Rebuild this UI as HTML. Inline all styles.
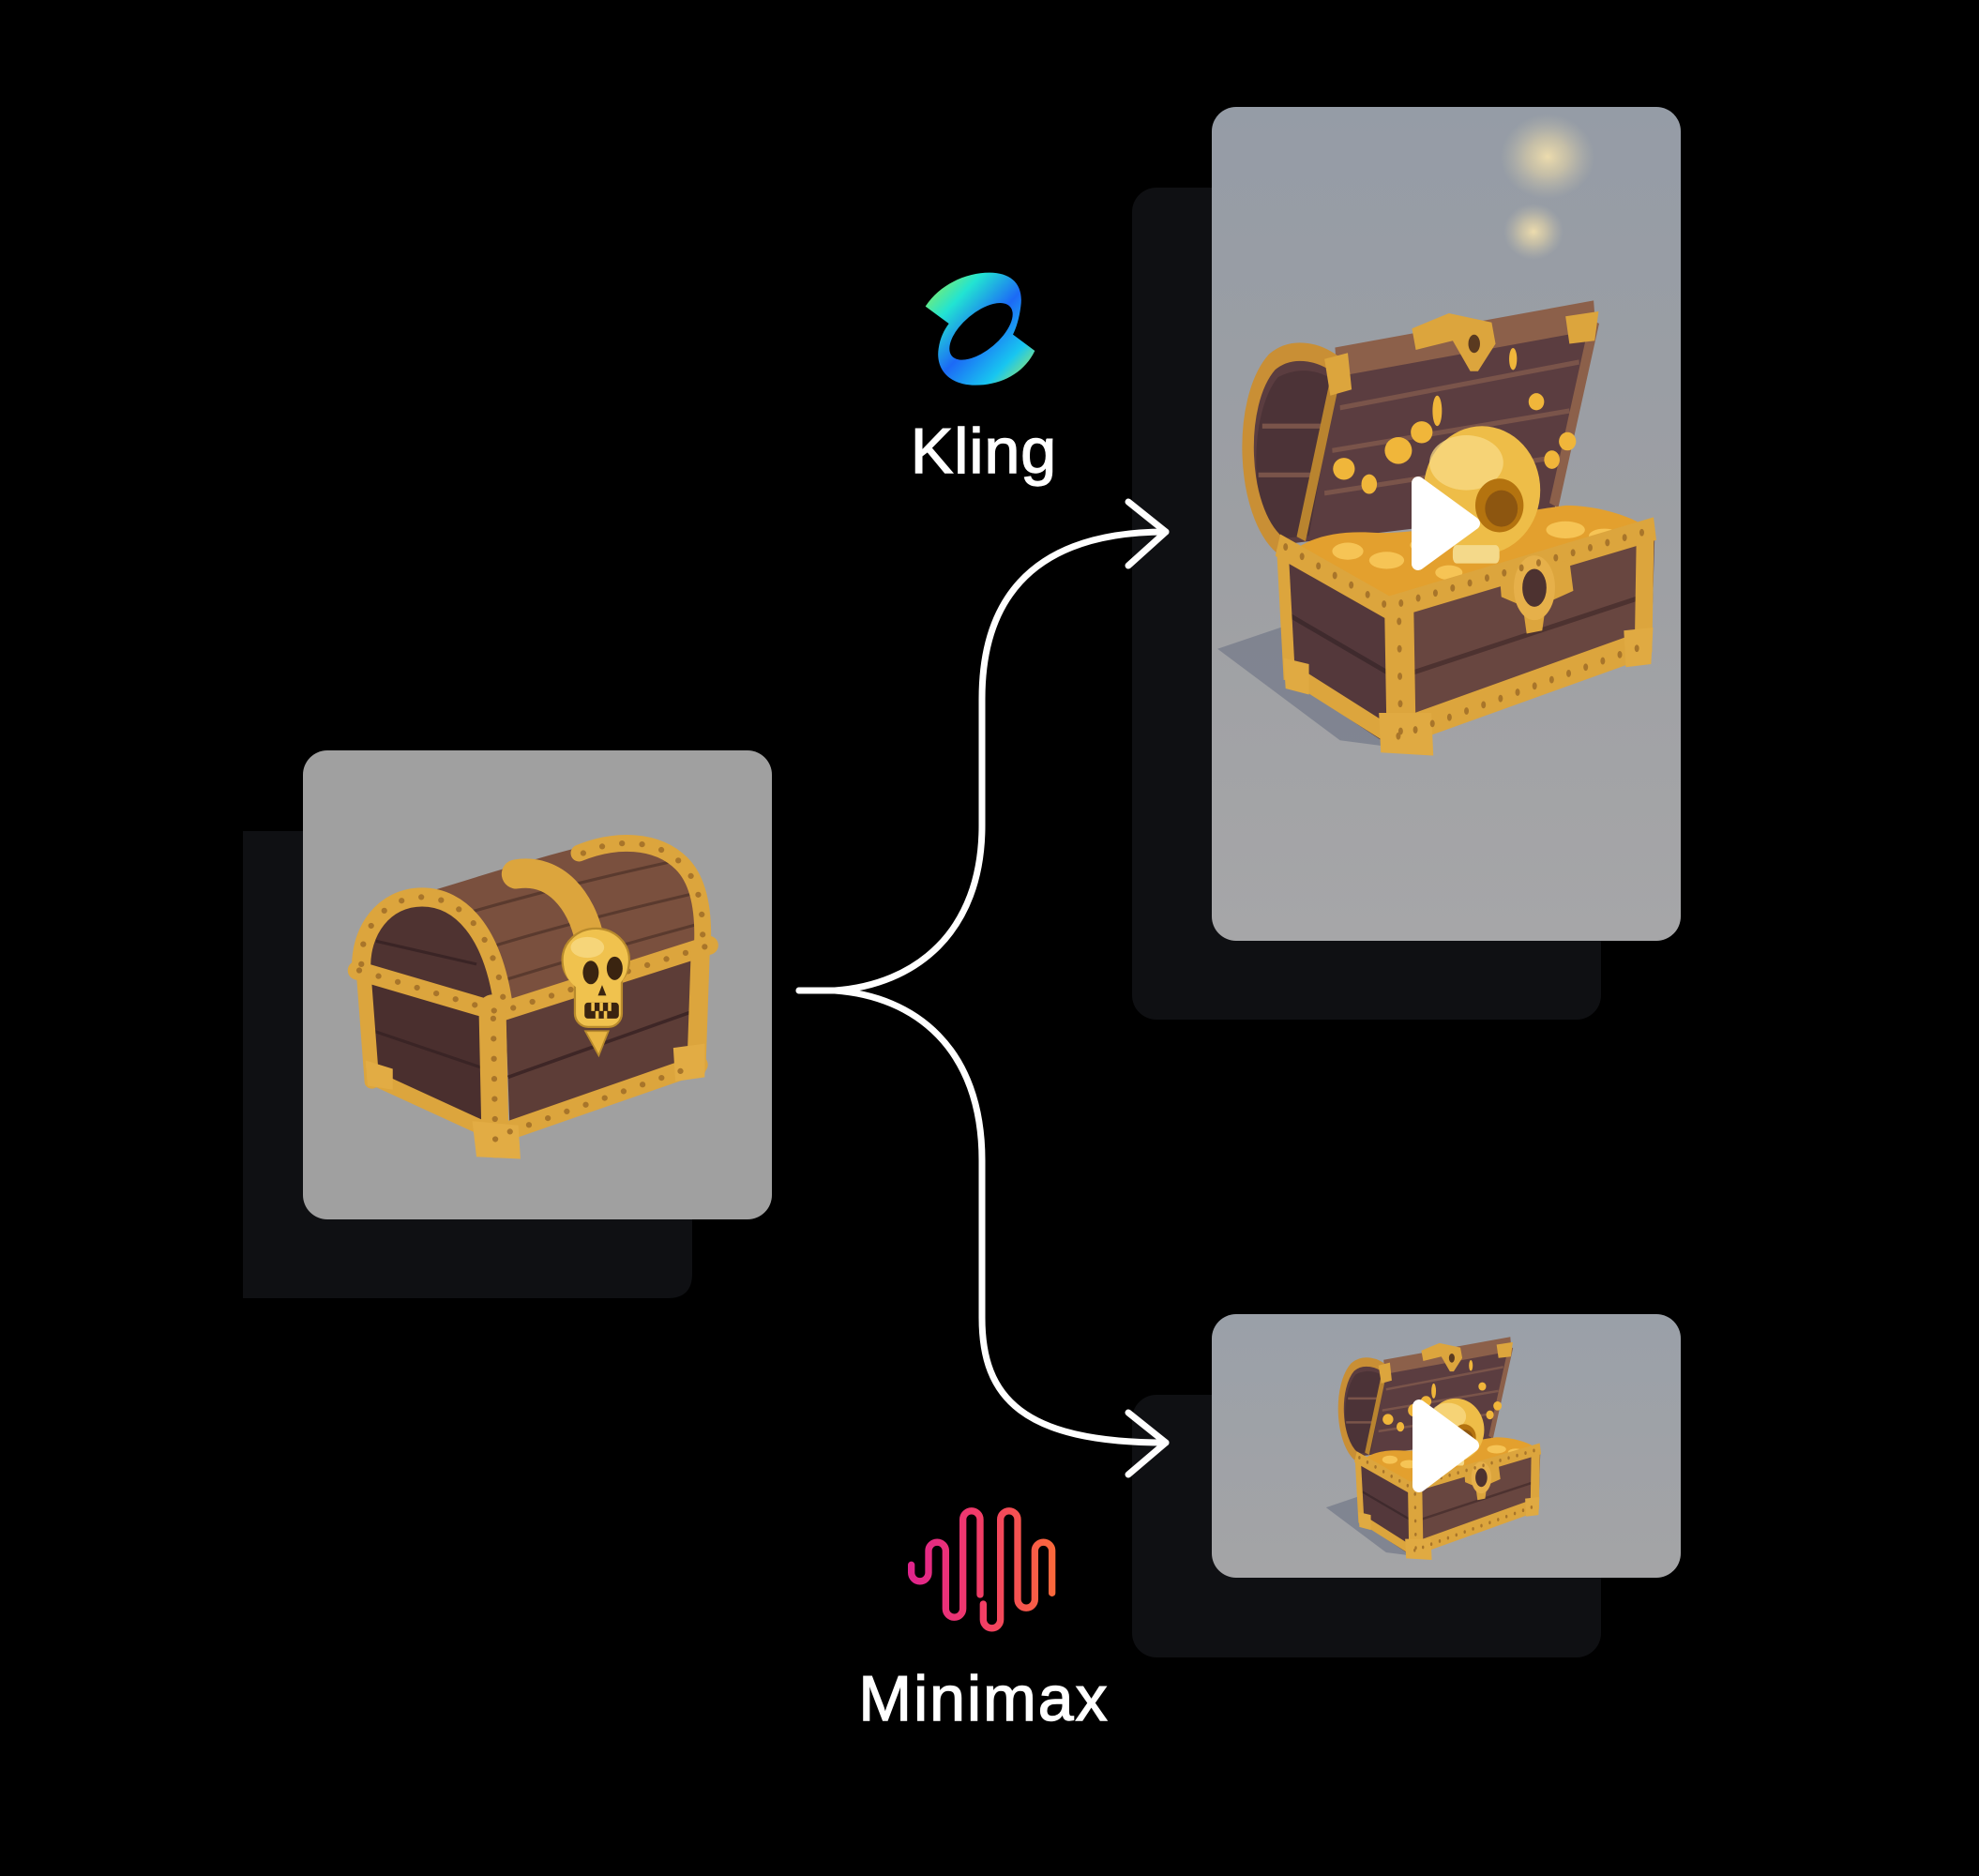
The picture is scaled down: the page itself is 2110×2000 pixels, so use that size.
<!DOCTYPE html>
<html>
<head>
<meta charset="utf-8">
<style>
  html, body { margin:0; padding:0; background:#000; }
  body { width:2110px; height:2000px; overflow:hidden; }
  svg { display:block; }
</style>
</head>
<body>
<svg width="2110" height="2000" viewBox="0 0 2110 2000" xmlns="http://www.w3.org/2000/svg">
  <defs>
    <linearGradient id="topCard" x1="0" y1="0" x2="0" y2="1">
      <stop offset="0" stop-color="#959ca6"/>
      <stop offset="0.5" stop-color="#9d9fa3"/>
      <stop offset="1" stop-color="#a6a6a8"/>
    </linearGradient>
    <linearGradient id="botCard" x1="0" y1="0" x2="0" y2="1">
      <stop offset="0" stop-color="#9aa0a8"/>
      <stop offset="1" stop-color="#a4a4a6"/>
    </linearGradient>
    <radialGradient id="glow1">
      <stop offset="0" stop-color="#f1dfae" stop-opacity="0.95"/>
      <stop offset="0.45" stop-color="#e2d3a8" stop-opacity="0.6"/>
      <stop offset="1" stop-color="#c8c4b0" stop-opacity="0"/>
    </radialGradient>
    <linearGradient id="klingGrad" gradientUnits="userSpaceOnUse" x1="140" y1="110" x2="490" y2="440">
      <stop offset="0" stop-color="#9af04c"/>
      <stop offset="0.25" stop-color="#22e4d2"/>
      <stop offset="0.52" stop-color="#1c6af6"/>
      <stop offset="0.78" stop-color="#18c6f0"/>
      <stop offset="1" stop-color="#b6f04a"/>
    </linearGradient>
    <linearGradient id="mmGrad" gradientUnits="userSpaceOnUse" x1="20" y1="0" x2="500" y2="0">
      <stop offset="0" stop-color="#e0238e"/>
      <stop offset="0.5" stop-color="#f23d66"/>
      <stop offset="1" stop-color="#fb6a3a"/>
    </linearGradient>

    <g id="openchest" transform="translate(1180,90) scale(0.41454,0.65051)">
      <polygon points="285,925 470,885 720,1085 600,1075" fill="#6f7585" opacity="0.65"/>
      <path d="M440,755 C350,700 330,520 420,455 C470,430 540,440 590,465 L1255,380 C1230,470 1190,600 1150,700 Z" fill="#5b3d40"/>
      <path d="M430,745 C370,690 365,540 440,480 C500,460 560,470 590,490 L520,740 Z" fill="#4c3337"/>
      <g stroke="#7a544a" stroke-width="8" fill="none">
        <line x1="600" y1="530" x2="1215" y2="455"/>
        <line x1="580" y1="600" x2="1190" y2="535"/>
        <line x1="560" y1="670" x2="1165" y2="610"/>
        <line x1="400" y1="560" x2="560" y2="560"/>
        <line x1="390" y1="640" x2="540" y2="640"/>
      </g>
      <path d="M590,455 L1255,378" stroke="#8c604a" stroke-width="48" fill="none"/>
      <path d="M445,755 C345,700 335,520 425,455 C480,425 560,440 600,465" stroke="#c98f35" stroke-width="30" fill="none"/>
      <path d="M590,475 L500,745" stroke="#b9842f" stroke-width="24" fill="none"/>
      <path d="M1255,388 L1150,690" stroke="#8c604a" stroke-width="24" fill="none"/>
      <path d="M560,450 L620,440 L630,500 L575,510 Z" fill="#dca53d"/>
      <path d="M1180,380 L1265,372 L1255,420 L1190,425 Z" fill="#dca53d"/>
      <polygon points="785,400 880,375 990,390 1000,425 955,470 935,470 890,420 795,435" fill="#dca53d"/>
      <circle cx="945" cy="425" r="15" fill="#5a3a20"/>
      <path d="M470,770 C520,740 600,730 700,735 C850,735 1000,705 1180,690 C1280,690 1380,715 1405,735 L1200,795 L730,860 Z" fill="#e3a02e"/>
      <g fill="#f6c455">
        <ellipse cx="620" cy="765" rx="40" ry="14"/>
        <ellipse cx="720" cy="780" rx="45" ry="14"/>
        <ellipse cx="820" cy="755" rx="40" ry="12"/>
        <ellipse cx="1180" cy="730" rx="50" ry="14"/>
        <ellipse cx="1280" cy="740" rx="40" ry="12"/>
        <ellipse cx="880" cy="800" rx="35" ry="12"/>
      </g>
      <ellipse cx="965" cy="665" rx="150" ry="105" fill="#eebd48"/>
      <ellipse cx="925" cy="620" rx="95" ry="45" fill="#f8db86" opacity="0.75"/>
      <ellipse cx="1010" cy="690" rx="62" ry="44" fill="#b4730f"/>
      <ellipse cx="1015" cy="695" rx="42" ry="30" fill="#8d5610"/>
      <rect x="890" y="755" width="120" height="30" rx="10" fill="#f4d98a"/>
      <polygon points="440,760 725,865 730,1085 470,975" fill="#54383b"/>
      <polygon points="725,865 1410,730 1400,935 730,1085" fill="#684640"/>
      <line x1="735" y1="975" x2="1400" y2="835" stroke="#4d3230" stroke-width="8"/>
      <line x1="470" y1="870" x2="725" y2="965" stroke="#3f2a2d" stroke-width="8"/>
      <g stroke="#dca53d" fill="none" stroke-linejoin="round">
        <path d="M440,755 L725,858 L1410,728" stroke-width="38"/>
        <path d="M752,860 L758,1085" stroke-width="75"/>
        <path d="M452,760 L470,975" stroke-width="30"/>
        <path d="M1385,735 L1380,930" stroke-width="45"/>
        <path d="M740,1065 L1395,915" stroke-width="45"/>
        <path d="M465,960 L725,1065" stroke-width="30"/>
      </g>
      <polygon points="700,1030 835,1030 840,1100 705,1095" fill="#e0aa42"/>
      <polygon points="1330,895 1405,890 1400,950 1335,955" fill="#e0aa42"/>
      <polygon points="455,940 520,950 520,1000 460,990" fill="#e0aa42"/>
      <polygon points="1010,800 1190,780 1200,830 1130,850 1120,895 1080,900 1070,855 1015,840" fill="#dca53d"/>
      <circle cx="1100" cy="825" r="42" fill="#4d3230" stroke="#e6b04a" stroke-width="22"/>
      <g stroke="#a8752a" stroke-width="12" stroke-linecap="round" stroke-dasharray="0 45" fill="none">
        <path d="M460,758 L725,856 L1400,730"/>
        <path d="M750,1068 L1390,918"/>
        <path d="M752,880 L756,1060"/>
      </g>
      <g fill="#f0b63a">
        <ellipse cx="610" cy="630" rx="28" ry="18"/>
        <ellipse cx="675" cy="655" rx="20" ry="16"/>
        <ellipse cx="750" cy="600" rx="35" ry="22"/>
        <ellipse cx="810" cy="570" rx="28" ry="18"/>
        <ellipse cx="850" cy="535" rx="12" ry="25"/>
        <ellipse cx="1045" cy="450" rx="10" ry="18"/>
        <ellipse cx="1105" cy="520" rx="20" ry="14"/>
        <ellipse cx="1145" cy="615" rx="20" ry="15"/>
        <ellipse cx="1185" cy="585" rx="22" ry="15"/>
      </g>
    </g>
  </defs>

  <path d="M259,886 L738,886 L738,1358 Q738,1384 712,1384 L259,1384 Z" fill="#0f1013"/>
  <rect x="1207" y="200" width="500" height="887" rx="26" fill="#0f1013"/>
  <rect x="1207" y="1487" width="500" height="280" rx="26" fill="#0f1013"/>

  <rect x="323" y="800" width="500" height="500" rx="26" fill="#a0a0a0"/>
  <rect x="1292" y="114" width="500" height="889" rx="26" fill="url(#topCard)"/>
  <rect x="1292" y="1401" width="500" height="281" rx="26" fill="url(#botCard)"/>

  <ellipse cx="1650" cy="167" rx="50" ry="45" fill="url(#glow1)"/>
  <ellipse cx="1635" cy="247" rx="32" ry="30" fill="url(#glow1)"/>

  <g transform="translate(200,760) scale(0.44643)">
    <polygon points="430,610 740,710 745,1020 445,885" fill="#4a2f2e"/>
    <path d="M430,615 C425,500 490,450 560,450 C650,455 715,560 735,705 L430,620 Z" fill="#4f3331"/>
    <g stroke="#3a2425" stroke-width="7" fill="none">
      <line x1="450" y1="545" x2="690" y2="600"/>
      <line x1="445" y1="760" x2="740" y2="860"/>
    </g>
    <path d="M565,430 C700,390 850,340 1000,305 C1100,295 1180,330 1215,400 C1240,450 1245,500 1240,545 L770,705 C760,600 700,470 600,430 Z" fill="#7a503e"/>
    <g stroke="#5a3a2e" stroke-width="7" fill="none">
      <path d="M660,480 C800,440 950,400 1180,350"/>
      <path d="M720,560 C850,520 1000,480 1215,430"/>
      <path d="M750,640 C880,600 1050,550 1235,500"/>
    </g>
    <polygon points="760,730 1215,570 1220,850 770,1010" fill="#5d3d37"/>
    <line x1="765" y1="870" x2="1215" y2="710" stroke="#3e2626" stroke-width="8"/>
    <g stroke="#dca53d" fill="none" stroke-linejoin="round" stroke-linecap="round">
      <path d="M415,615 C410,520 470,440 560,440 C650,440 730,520 755,705" stroke-width="45"/>
      <path d="M935,335 C1020,300 1120,300 1180,360 C1220,400 1232,470 1230,545" stroke-width="40"/>
      <path d="M785,385 C880,370 940,450 960,540" stroke-width="70"/>
      <path d="M405,615 L745,715 L1245,555" stroke-width="45"/>
      <path d="M728,705 L735,1030" stroke-width="65"/>
      <path d="M760,1000 L1220,840" stroke-width="45"/>
      <path d="M440,870 L745,1010" stroke-width="35"/>
      <path d="M420,615 L440,880" stroke-width="35"/>
      <path d="M1225,560 L1215,850" stroke-width="45"/>
    </g>
    <polygon points="680,975 790,985 795,1065 690,1060" fill="#e2ac44"/>
    <polygon points="425,830 490,850 490,900 430,890" fill="#e2ac44"/>
    <polygon points="1160,800 1235,790 1235,870 1165,880" fill="#e2ac44"/>
    <g stroke="#a8752a" stroke-width="14" stroke-linecap="round" stroke-dasharray="0 48" fill="none">
      <path d="M415,600 C410,520 470,440 560,440 C650,440 730,520 755,690"/>
      <path d="M410,615 L745,715 L1240,557"/>
      <path d="M770,1000 L1215,842"/>
      <path d="M730,730 L735,1020"/>
      <path d="M945,335 C1020,300 1120,300 1180,360 C1220,400 1232,470 1230,540"/>
    </g>
    <polygon points="950,760 1005,760 982,818" fill="#e8b543" stroke="#b88a2c" stroke-width="4"/>
    <ellipse cx="975" cy="590" rx="80" ry="75" fill="#f0c24e" stroke="#b88a2c" stroke-width="5"/>
    <rect x="925" y="610" width="112" height="140" rx="32" fill="#f0c24e" stroke="#b88a2c" stroke-width="5"/>
    <ellipse cx="975" cy="600" rx="76" ry="70" fill="#f0c24e"/>
    <ellipse cx="955" cy="560" rx="40" ry="25" fill="#f8da84" opacity="0.8"/>
    <ellipse cx="963" cy="620" rx="19" ry="28" fill="#3a2410"/>
    <ellipse cx="1020" cy="610" rx="19" ry="28" fill="#3a2410"/>
    <polygon points="990,650 980,675 1000,675" fill="#3a2410"/>
    <rect x="948" y="692" width="82" height="38" rx="8" fill="#3a2410"/>
    <g stroke="#f0c24e" stroke-width="8">
      <line x1="968" y1="692" x2="968" y2="712"/>
      <line x1="988" y1="692" x2="988" y2="712"/>
      <line x1="1008" y1="692" x2="1008" y2="712"/>
      <line x1="978" y1="712" x2="978" y2="730"/>
      <line x1="998" y1="712" x2="998" y2="730"/>
    </g>
  </g>

  <use href="#openchest"/>
  <use href="#openchest" transform="translate(777.75,1268.24) scale(0.49)"/>

  <polygon points="1512,515 1512,601 1571,558" fill="#fff" stroke="#fff" stroke-width="14" stroke-linejoin="round"/>
  <polygon points="1513,1499 1513,1584 1570,1541" fill="#fff" stroke="#fff" stroke-width="14" stroke-linejoin="round"/>

  <g stroke="#fff" stroke-width="7" fill="none" stroke-linecap="round" stroke-linejoin="round">
    <path d="M852,1056 L890,1056 C975,1050 1047,995 1047,880 L1047,745 C1047,650 1090,567 1243,567"/>
    <path d="M852,1056 L890,1056 C975,1062 1047,1117 1047,1237 L1047,1405 C1047,1490 1090,1538 1243,1538"/>
    <path d="M1203,535 L1243,567 L1203,603"/>
    <path d="M1203,1506 L1243,1538 L1203,1572"/>
  </g>

  <g transform="translate(940,260) scale(0.33333)">
    <path d="M140,200 C185,130 270,92 345,92 C415,92 455,130 445,200 C440,240 430,270 420,290 L490,342 C455,415 380,452 300,452 C215,452 172,400 182,335 C187,300 200,275 215,255 Z" fill="url(#klingGrad)"/>
    <ellipse cx="318" cy="280" rx="122" ry="60" transform="rotate(-40 318 280)" fill="#000"/>
  </g>
  <text x="1049" y="504" text-anchor="middle" font-family="Liberation Sans, Arial, sans-serif" font-size="68" fill="#fff" stroke="#fff" stroke-width="1.4" letter-spacing="1">Kling</text>

  <g transform="translate(960,1600) scale(0.33333)" fill="none" stroke="url(#mmGrad)" stroke-width="22" stroke-linecap="round" stroke-linejoin="round">
    <path d="M35,205 L35,230 A27.5,27.5 0 0 0 90,230 L90,160 A27.5,27.5 0 0 1 145,160 L145,345 A27.5,27.5 0 0 0 200,345 L200,60 A27.5,27.5 0 0 1 255,60 L255,300"/>
    <path d="M265,330 L265,380 A27.5,27.5 0 0 0 320,380 L320,60 A27.5,27.5 0 0 1 375,60 L375,315 A27.5,27.5 0 0 0 430,315 L430,160 A27.5,27.5 0 0 1 485,160 L485,295"/>
  </g>
  <text x="1049" y="1834" text-anchor="middle" font-family="Liberation Sans, Arial, sans-serif" font-size="68" fill="#fff" stroke="#fff" stroke-width="1.4" letter-spacing="2">Minimax</text>
</svg>
</body>
</html>
